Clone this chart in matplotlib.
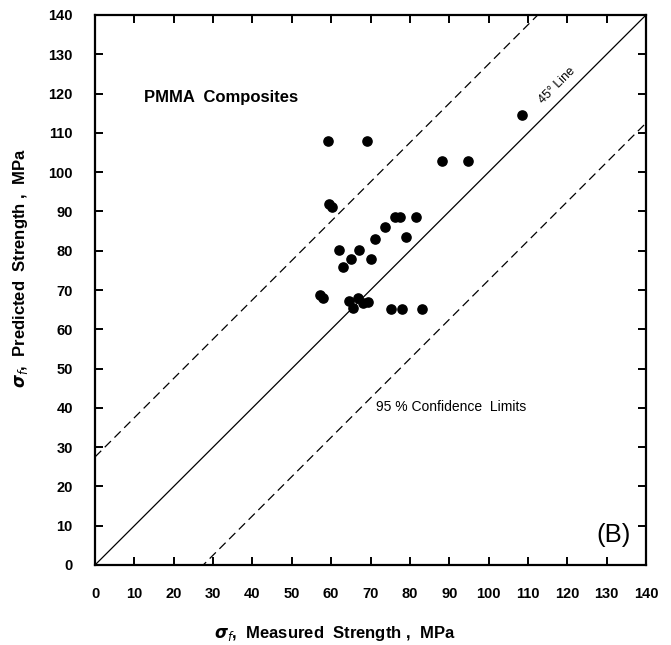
import numpy as np
import matplotlib
matplotlib.use("Agg")
import matplotlib.pyplot as plt

plt.rcParams['font.family'] = ['Liberation Sans', 'DejaVu Sans']
plt.rcParams['mathtext.fontset'] = 'custom'
plt.rcParams['mathtext.rm'] = 'Liberation Sans'
plt.rcParams['mathtext.bf'] = 'Liberation Sans:bold'

# measured vs predicted strength, MPa
measured = [59.1, 69.0, 88.2, 94.8, 108.5, 59.5, 60.2, 76.2, 77.5, 81.6,
            73.8, 71.2, 78.9, 61.9, 67.1, 65.1, 70.1, 63.1, 57.2, 57.9,
            64.5, 66.9, 65.5, 68.0, 69.4, 75.2, 78.1, 83.2]
predicted = [107.9, 107.9, 102.9, 102.9, 114.5, 91.8, 91.2, 88.5, 88.5, 88.6,
             86.0, 83.0, 83.4, 80.3, 80.3, 77.9, 78.0, 75.8, 68.8, 67.9,
             67.2, 67.9, 65.4, 66.8, 67.0, 65.1, 65.1, 65.1]

conf_offset = 27.5
ticks = list(range(0, 141, 10))

fig = plt.figure(figsize=(6.71, 6.45), dpi=100)
ax = fig.add_axes([95 / 671, 80 / 645, 551 / 671, 550 / 645])

line_x = np.array([0, 140])
ax.plot(line_x, line_x, color='black', lw=0.9)
ax.plot(line_x, line_x + conf_offset, color='black', lw=0.9, ls=(0, (7, 4)))
ax.plot(line_x, line_x - conf_offset, color='black', lw=0.9, ls=(0, (7, 4)))

ax.scatter(measured, predicted, s=44, color='black', zorder=3)

ax.set_xlim(0, 140)
ax.set_ylim(0, 140)
ax.set_xticks(ticks)
ax.set_yticks(ticks)
ax.tick_params(direction='in', length=6, width=1.4, top=True, right=True,
               labelsize=10.5, pad=16)
for lab in ax.get_xticklabels() + ax.get_yticklabels():
    lab.set_fontweight('bold')
for sp in ax.spines.values():
    sp.set_linewidth(1.6)

ax.text(12.5, 119, 'PMMA  Composites', fontsize=12, fontweight='bold',
        va='center', ha='left')
ax.text(71.5, 40.2, '95 % Confidence  Limits', fontsize=10, va='center', ha='left')
ax.text(117.5, 122, '45° Line', fontsize=9, rotation=45,
        va='center', ha='center')
ax.text(136, 7.6, '(B)', fontsize=18.5, va='center', ha='right')

ax.set_xlabel(r'$\boldsymbol{\sigma}_{f}$,  Measured  Strength ,  MPa',
              fontsize=12, fontweight='bold', va='center')
ax.xaxis.set_label_coords(0.4356, -0.125)
ax.set_ylabel(r'$\boldsymbol{\sigma}_{f}$,  Predicted  Strength ,  MPa',
              fontsize=12, fontweight='bold', va='center')
ax.yaxis.set_label_coords(-0.136, 0.54)

fig.savefig('out.png', dpi=100)
